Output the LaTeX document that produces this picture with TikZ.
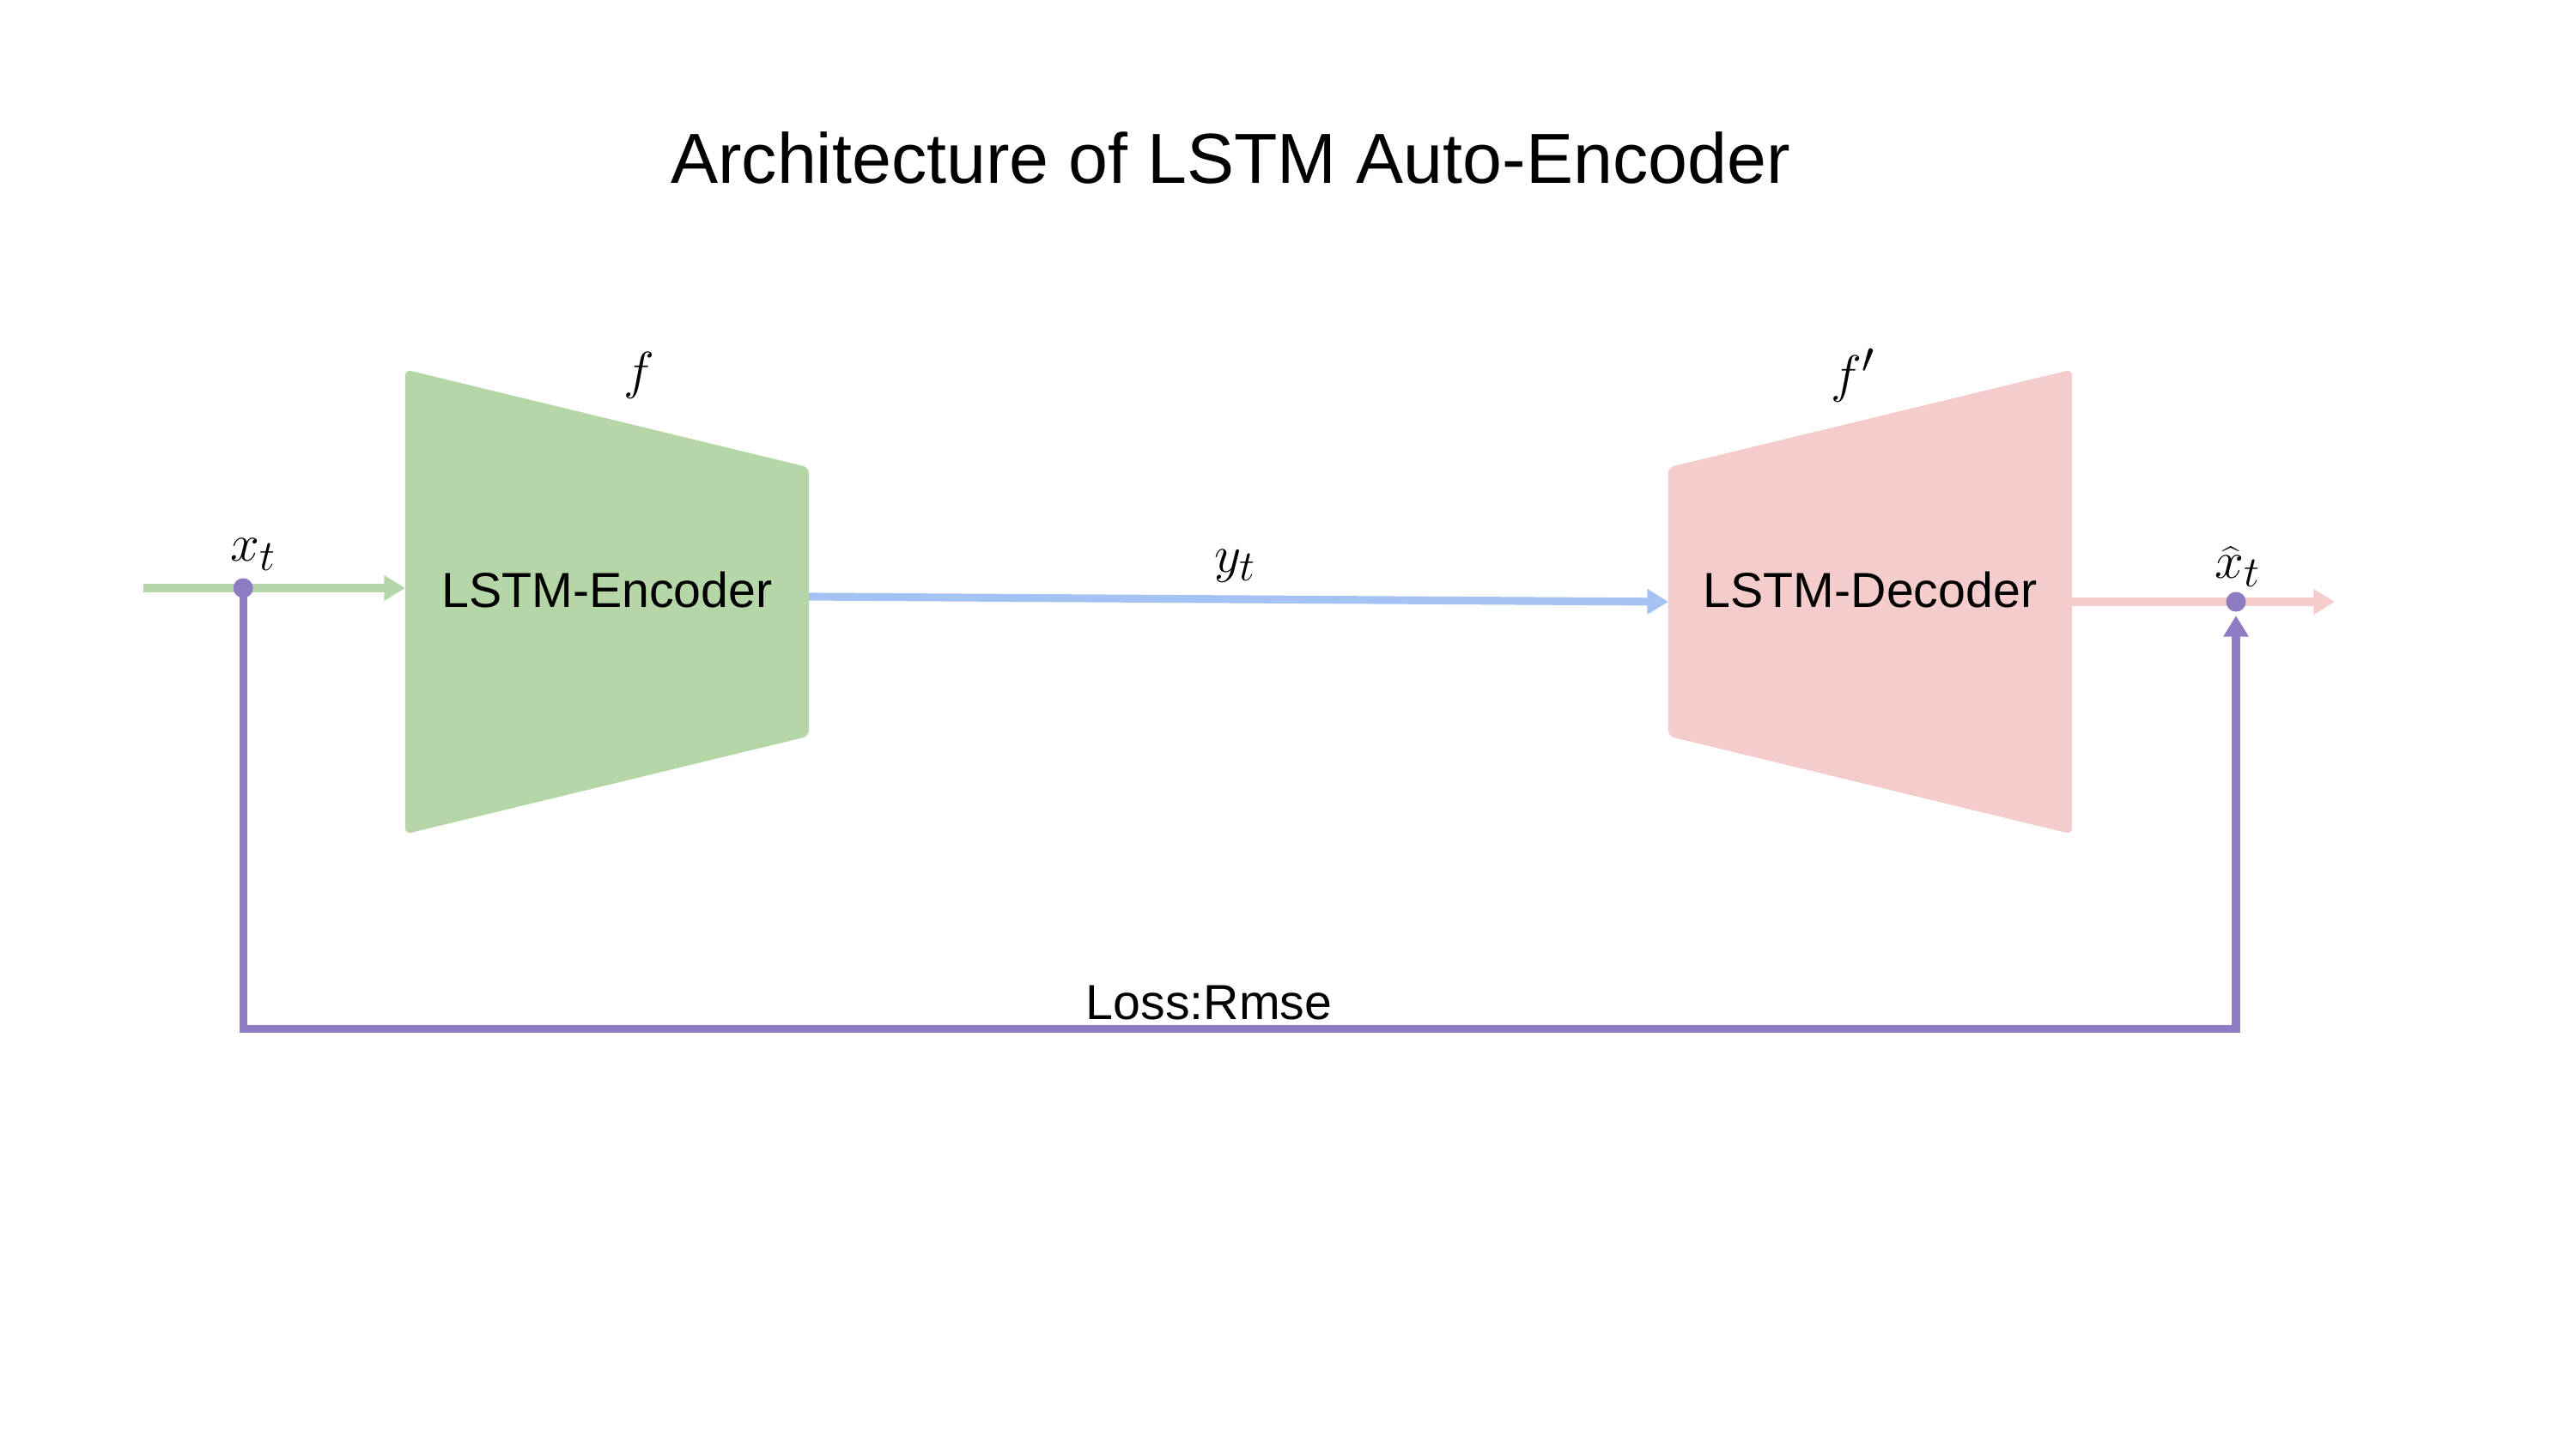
\documentclass[tikz,border=0pt]{standalone}
\usepackage{fontspec}
\setmainfont{Liberation Sans}
\usetikzlibrary{arrows.meta,positioning}
\definecolor{encgreen}{RGB}{181,215,168}
\definecolor{decpink}{RGB}{243,204,203}
\definecolor{codeblue}{RGB}{164,194,244}
\definecolor{losspurple}{RGB}{142,124,195}

\begin{document}
\begin{tikzpicture}[>={Triangle[length=7pt,width=8pt]}, line width=2.6pt]
        \tikzstyle{block}=[minimum width=4.61cm, minimum height=5.32cm, inner sep=0pt];
        \tikzstyle{lbl}=[font=\fontsize{16.3}{20}\selectfont];
        \tikzstyle{sym}=[font=\fontsize{19}{22}\selectfont, inner sep=0pt];
        \tikzstyle{dot}=[circle, fill=losspurple, minimum size=0.23cm, inner sep=0pt];

        \useasboundingbox (0,0) rectangle (30,16.88);

        \node[font=\fontsize{23.5}{28}\selectfont] (title) at (14.33,15.04) {Architecture of LSTM Auto-Encoder};

        % encoder and decoder blocks
        \node[block] (enc) at (7.07,9.87) {};
        \node[block] (dec) at (21.78,9.87) {};
        \fill[encgreen, rounded corners=2pt] (enc.north west) -- ([yshift=-1.14cm]enc.north east) -- ([yshift=1.14cm]enc.south east) -- (enc.south west) -- cycle;
        \fill[decpink, rounded corners=2pt] ([yshift=-1.14cm]dec.north west) -- (dec.north east) -- (dec.south east) -- ([yshift=1.14cm]dec.south west) -- cycle;
        \node[lbl] (enctxt) at ([yshift=1.4mm]enc.center) {LSTM-Encoder};
        \node[lbl] (dectxt) at ([yshift=1.4mm]dec.center) {LSTM-Decoder};
        \node[sym] (f) at (7.44,12.51) {$f$};
        \node[sym] (fp) at (21.58,12.51) {$f'$};

        % data flow
        \coordinate (in) at (1.665,10.03);
        \coordinate (out) at (27.19,9.87);
        \draw[->, encgreen] (in) -- (in -| enc.west);
        \draw[->, codeblue] ([yshift=0.6mm]enc.east) -- (dec.west);
        \draw[->, decpink] (dec.east) -- (out);
        \node[dot] (xin) at (2.832,10.03) {};
        \node[dot] (xout) at (26.04,9.87) {};
        \node[sym] (xt) at (2.95,10.42) {$x_t$};
        \node[sym] (yt) at (14.39,10.29) {$y_t$};
        \node[sym] (xhat) at (26.06,10.28) {$\widehat{x}_t$};

        % loss loop
        \coordinate (lossy) at (0,4.898);
        \draw[->, losspurple] (xin.center) -- (xin.center |- lossy) -- (xout.center |- lossy) -- (xout.south);
        \node[lbl] (loss) at (14.08,5.2) {Loss:Rmse};
    \end{tikzpicture}
\end{document}
